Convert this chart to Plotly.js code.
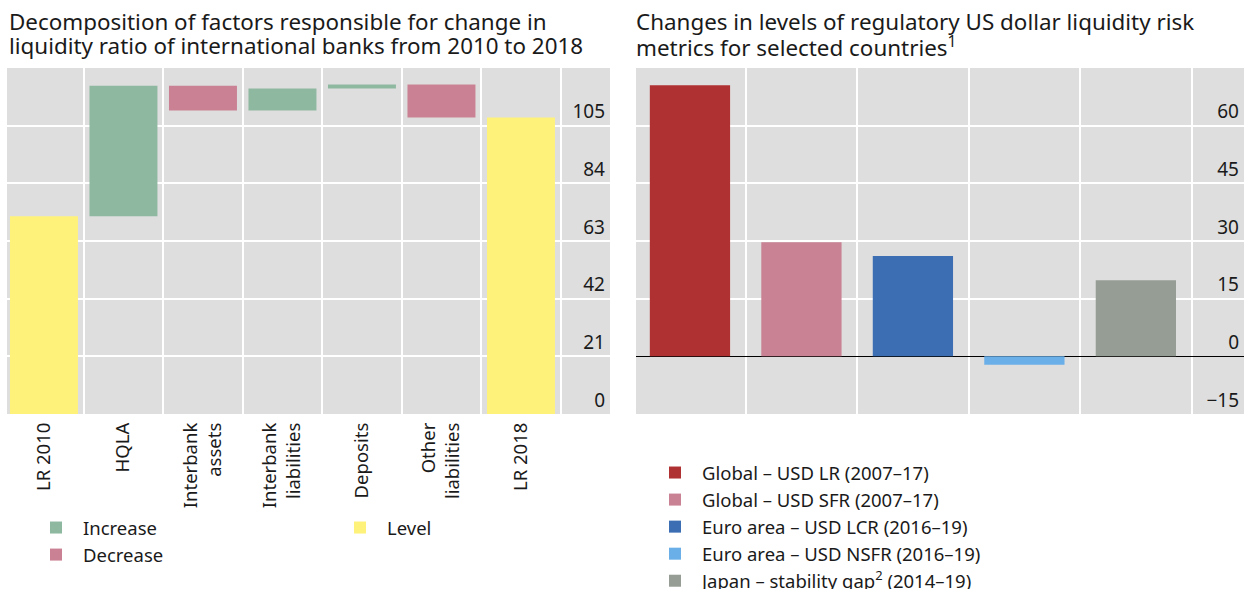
<!DOCTYPE html>
<html>
<head>
<meta charset="utf-8">
<script src="https://cdn.plot.ly/plotly-3.0.1.min.js"></script>
<style>
  html, body { margin: 0; padding: 0; background: #ffffff; }
  #chart { width: 1244px; height: 589px; }
</style>
</head>
<body>
<div id="chart"></div>
<script>
// ---- Left panel data (waterfall) ----
const leftCategories = ["LR 2010", "HQLA", "Interbank<br>assets", "Interbank<br>liabilities", "Deposits", "Other<br>liabilities", "LR 2018"];
const startLevel = 72;          // LR 2010
const changeCategories = ["HQLA", "Interbank<br>assets", "Interbank<br>liabilities", "Deposits", "Other<br>liabilities"];
const changeValues = [47.5, -9, 8, 1.5, -12];
const endLevel = 108;           // LR 2018
const leftTicks = [0, 21, 42, 63, 84, 105];

// ---- Right panel data ----
const rightSeries = ["Global – USD LR (2007–17)", "Global – USD SFR (2007–17)", "Euro area – USD LCR (2016–19)", "Euro area – USD NSFR (2016–19)", "Japan – stability gap<sup>2</sup> (2014–19)"];
const rightValues = [70.5, 29.7, 26.1, -2.2, 19.8];
const rightColors = ["#b03131", "#c98294", "#3b6eb2", "#6aafe8", "#969d94"];
const rightTicks = [-15, 0, 15, 30, 45, 60];

// ---- Titles ----
const leftTitle = ["Decomposition of factors responsible for change in", "liquidity ratio of international banks from 2010 to 2018"];
const rightTitle = ["Changes in levels of regulatory US dollar liquidity risk", "metrics for selected countries<sup>1</sup>"];

const FONT = "Noto Sans, Open Sans, sans-serif";
const TXT = "#1a1a1a";

// build waterfall pieces from the changes
const incX = [], incBase = [], incY = [];
const decX = [], decBase = [], decY = [];
let running = startLevel;
changeValues.forEach((v, i) => {
  if (v >= 0) { incX.push(changeCategories[i]); incBase.push(running); incY.push(v); }
  else { decX.push(changeCategories[i]); decBase.push(running + v); decY.push(-v); }
  running += v;
});

const traces = [
  {
    type: "bar", name: "Increase", x: incX, y: incY, base: incBase,
    xaxis: "x", yaxis: "y", width: 0.855,
    marker: { color: "#8fb8a0" }, legend: "legend", hoverinfo: "skip"
  },
  {
    type: "bar", name: "Decrease", x: decX, y: decY, base: decBase,
    xaxis: "x", yaxis: "y", width: 0.855,
    marker: { color: "#c98193" }, legend: "legend", hoverinfo: "skip"
  },
  {
    type: "bar", name: "Level", x: [leftCategories[0], leftCategories[leftCategories.length - 1]],
    y: [startLevel, endLevel], xaxis: "x", yaxis: "y", width: 0.855,
    marker: { color: "#fff27a" }, legend: "legend2", hoverinfo: "skip"
  }
];

rightSeries.forEach((name, i) => {
  traces.push({
    type: "bar", name: name, x: [name], y: [rightValues[i]],
    xaxis: "x2", yaxis: "y2", width: 0.72,
    marker: { color: rightColors[i] }, legend: "legend3", hoverinfo: "skip"
  });
});

const H = 346; // plot height in px (paper units)
function py(px) { return (414 - px) / H; }
function pxX(px) { return px / 1244; }

const gridCol = "#ffffff";
const bg = "#dedede";
const legFont = { family: FONT, size: 18.5, color: TXT };

const titleAnn = [];
[[leftTitle, 7], [rightTitle, 634]].forEach(([lines, x0]) => {
  lines.forEach((t, k) => {
    titleAnn.push({
      xref: "paper", yref: "paper", x: pxX(x0), y: py(4 + k * 24), xanchor: "left", yanchor: "top",
      align: "left", showarrow: false, text: t,
      font: { family: FONT, size: 22.4, color: TXT }
    });
  });
});

const layout = {
  width: 1244, height: 589,
  margin: { l: 0, r: 0, t: 68, b: 175, autoexpand: false },
  paper_bgcolor: "#ffffff",
  plot_bgcolor: bg,
  barmode: "overlay",
  font: { family: FONT, size: 18, color: TXT },
  showlegend: true,
  xaxis: {
    domain: [pxX(7), pxX(610)],
    type: "category", categoryorder: "array", categoryarray: leftCategories,
    range: [-0.465, 7.12],
    tickson: "boundaries", showgrid: true, gridcolor: gridCol, gridwidth: 2,
    ticks: "", tickangle: -90, tickfont: { family: FONT, size: 18.5, color: TXT },
    ticklabelstandoff: 4,
    zeroline: false, showline: false, fixedrange: true
  },
  yaxis: {
    anchor: "x", side: "right", range: [0, 126],
    tickvals: leftTicks, ticktext: leftTicks.map(String),
    ticklabelposition: "inside", ticklabelshift: -14, ticklabelstandoff: 2,
    showgrid: true, gridcolor: gridCol, gridwidth: 2,
    zeroline: false, showline: false, ticks: "",
    tickfont: { family: FONT, size: 19, color: TXT }, fixedrange: true
  },
  xaxis2: {
    domain: [pxX(636), 1],
    anchor: "y2",
    type: "category", categoryorder: "array", categoryarray: rightSeries,
    range: [-0.484, 4.97],
    tickson: "boundaries", showgrid: true, gridcolor: gridCol, gridwidth: 2,
    showticklabels: false, ticks: "",
    zeroline: false, showline: false, fixedrange: true
  },
  yaxis2: {
    anchor: "x2", side: "right", range: [-15, 75],
    tickvals: rightTicks, ticktext: rightTicks.map(v => v < 0 ? "\u2212" + Math.abs(v) : String(v)),
    ticklabelposition: "inside", ticklabelshift: -14, ticklabelstandoff: 2,
    showgrid: true, gridcolor: gridCol, gridwidth: 2,
    zeroline: true, zerolinecolor: "#000000", zerolinewidth: 1.5,
    showline: false, ticks: "",
    tickfont: { family: FONT, size: 19, color: TXT }, fixedrange: true
  },
  legend: {
    x: pxX(29), y: py(509), xanchor: "left", yanchor: "top",
    orientation: "v", bgcolor: "rgba(0,0,0,0)",
    font: legFont, itemwidth: 44, tracegroupgap: 0
  },
  legend2: {
    x: pxX(333), y: py(509), xanchor: "left", yanchor: "top",
    orientation: "v", bgcolor: "rgba(0,0,0,0)",
    font: legFont, itemwidth: 44
  },
  legend3: {
    x: pxX(648), y: py(454), xanchor: "left", yanchor: "top",
    orientation: "v", bgcolor: "rgba(0,0,0,0)",
    font: legFont, itemwidth: 44
  },
  annotations: titleAnn
};

Plotly.newPlot("chart", traces, layout, { displayModeBar: false, staticPlot: true });
</script>
</body>
</html>
